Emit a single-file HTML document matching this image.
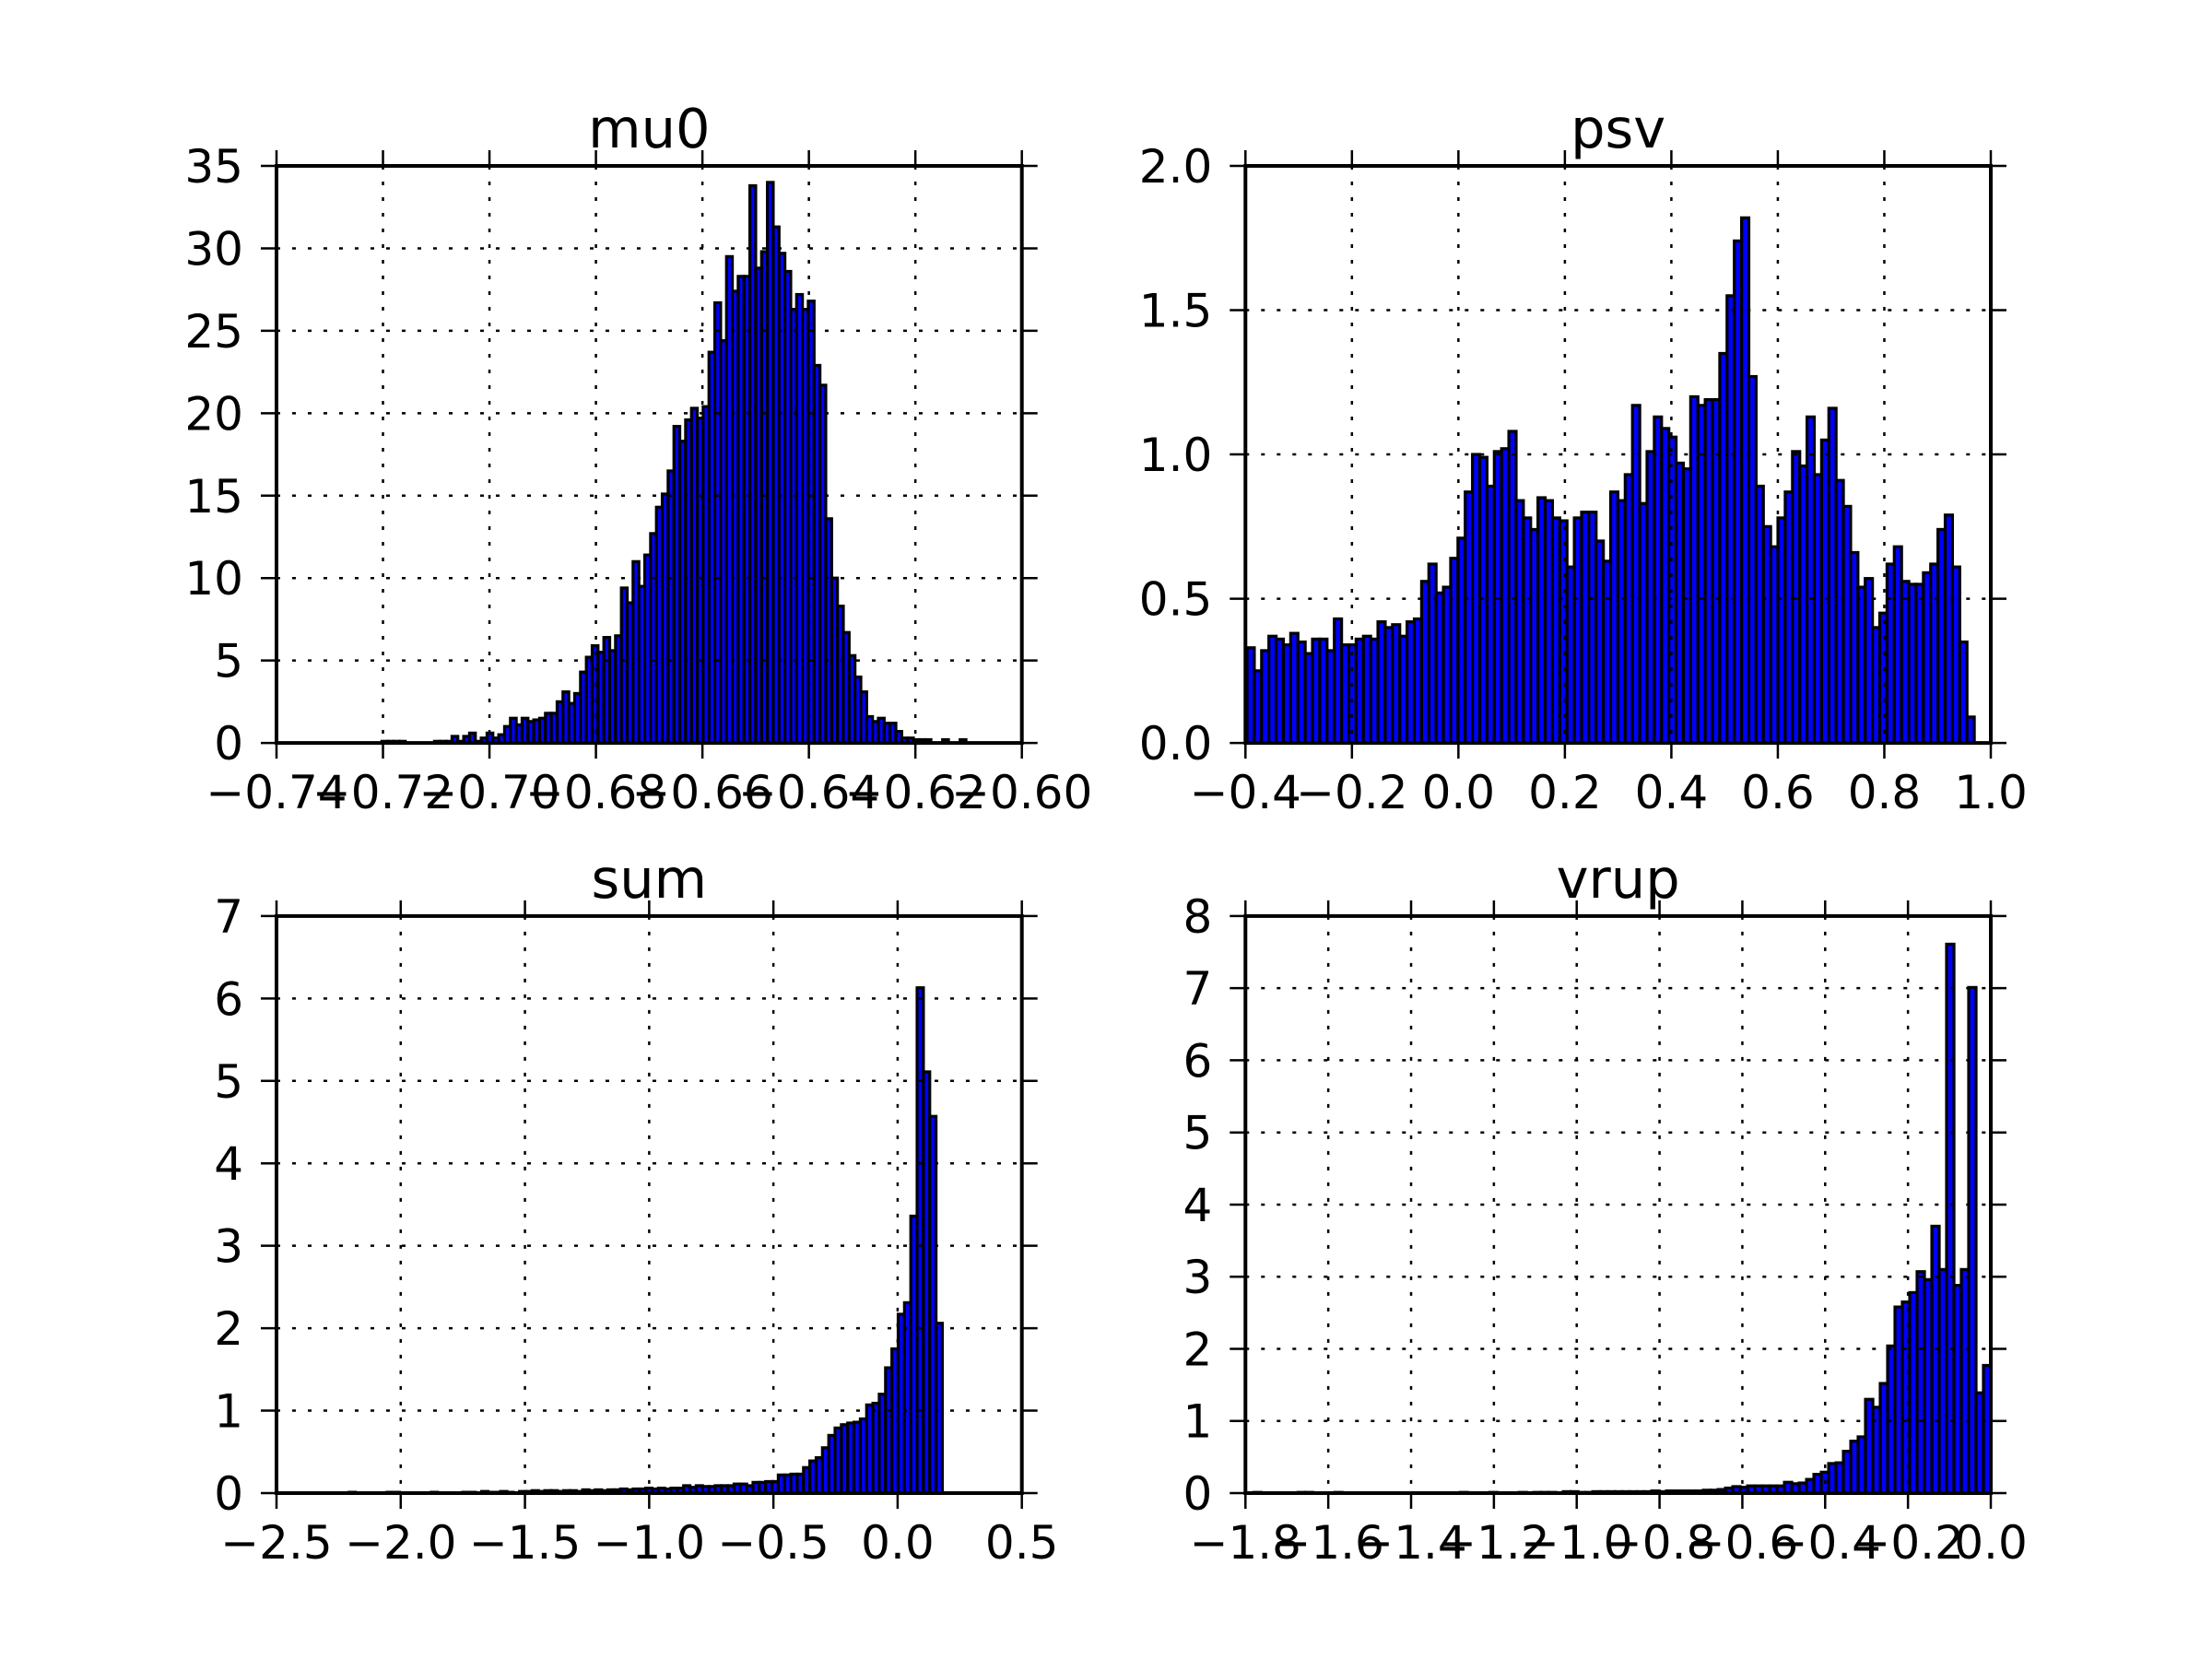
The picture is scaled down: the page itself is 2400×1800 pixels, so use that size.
<!DOCTYPE html>
<html><head><meta charset="utf-8"><style>
html,body{margin:0;padding:0;background:#fff;}
svg{display:block;font-family:"DejaVu Sans","Liberation Sans",sans-serif;}
</style></head><body>
<svg id="fig" width="2400" height="1800" viewBox="0 0 2400 1800" xmlns="http://www.w3.org/2000/svg">
<rect width="2400" height="1800" fill="#fff"/>
</svg>
<script>
// ---- data ----
const mu0Range = [-0.7202, -0.6094];
const mu0Heights = [0.1,0.1,0.1,0.1,0,0,0,0,0,0.1,0.1,0.1,0.4,0.1,0.4,0.6,0.1,0.3,0.6,0.3,0.5,1.0,1.5,1.1,1.5,1.3,1.4,1.5,1.8,1.8,2.5,3.1,2.4,3.0,4.3,5.2,5.9,5.5,6.4,5.6,6.5,9.4,8.5,11.0,9.5,11.4,12.7,14.3,15.1,16.5,19.2,18.3,19.6,20.3,19.7,20.4,23.7,26.7,24.4,29.5,27.4,28.3,28.3,33.8,28.8,29.8,34.0,31.3,29.7,28.6,26.3,27.2,26.3,26.8,22.9,21.7,13.6,10.0,8.3,6.7,5.3,4.0,3.1,1.6,1.3,1.5,1.2,1.2,0.7,0.3,0.3,0.2,0.2,0.2,0,0,0.2,0,0,0.2,0];
const mu0XTicks = [-0.74,-0.72,-0.70,-0.68,-0.66,-0.64,-0.62,-0.60];
const mu0XLabels = ["−0.74","−0.72","−0.70","−0.68","−0.66","−0.64","−0.62","−0.60"];
const mu0YTicks = [0,5,10,15,20,25,30,35];
const mu0YLabels = ["0","5","10","15","20","25","30","35"];

const psvRange = [-0.397, 0.969];
const psvHeights = [0.33,0.25,0.32,0.37,0.36,0.34,0.38,0.35,0.31,0.36,0.36,0.32,0.43,0.34,0.34,0.36,0.37,0.36,0.42,0.40,0.41,0.37,0.42,0.43,0.56,0.62,0.52,0.54,0.64,0.71,0.87,1.00,0.99,0.89,1.01,1.02,1.08,0.84,0.78,0.74,0.85,0.84,0.78,0.77,0.61,0.78,0.80,0.80,0.70,0.63,0.87,0.84,0.93,1.17,0.83,1.01,1.13,1.09,1.06,0.97,0.95,1.20,1.17,1.19,1.19,1.35,1.55,1.74,1.82,1.27,0.89,0.75,0.68,0.78,0.87,1.01,0.96,1.13,0.93,1.05,1.16,0.91,0.82,0.66,0.54,0.57,0.40,0.45,0.62,0.68,0.56,0.55,0.55,0.59,0.62,0.74,0.79,0.61,0.35,0.09];
const psvXTicks = [-0.4,-0.2,0.0,0.2,0.4,0.6,0.8,1.0];
const psvXLabels = ["−0.4","−0.2","0.0","0.2","0.4","0.6","0.8","1.0"];
const psvYTicks = [0,0.5,1.0,1.5,2.0];
const psvYLabels = ["0.0","0.5","1.0","1.5","2.0"];

const sumRange = [-2.36, 0.18];
const sumHeights = [0,0,0,0,0,0,0.01,0,0,0,0,0,0.01,0.01,0,0,0,0,0,0.01,0,0,0,0,0.01,0.01,0,0.02,0.01,0.01,0.02,0.01,0,0.02,0.02,0.03,0.02,0.03,0.03,0.02,0.03,0.03,0.02,0.04,0.03,0.04,0.03,0.04,0.04,0.05,0.04,0.05,0.05,0.06,0.05,0.06,
 0.05,0.06,0.06,0.09,0.07,0.09,0.08,0.08,0.09,0.09,0.09,0.11,0.11,0.09,0.13,0.13,0.14,0.14,0.22,0.22,0.23,0.23,0.31,0.39,0.43,0.55,0.70,0.79,0.83,0.85,0.86,0.90,1.07,1.09,1.20,1.52,1.75,2.17,2.31,3.36,6.13,5.11,4.57,2.06];
const sumXTicks = [-2.5,-2.0,-1.5,-1.0,-0.5,0.0,0.5];
const sumXLabels = ["−2.5","−2.0","−1.5","−1.0","−0.5","0.0","0.5"];
const sumYTicks = [0,1,2,3,4,5,6,7];
const sumYLabels = ["0","1","2","3","4","5","6","7"];

const vrupRange = [-1.78, 0.0];
const vrupHeights = [0.01,0,0,0,0,0,0.01,0.01,0,0,0,0.01,0,0,0,0,0,0,0,0,0,0,0,0,0,0,0,0,0.01,0,0,0,0.01,0,0,0,0.01,0,0.01,0.01,0.01,0,0.02,0.02,0.01,0.01,0.02,0.02,0.02,0.02,0.02,0.02,0.02,
 0.02,0.03,0.02,0.03,0.03,0.03,0.03,0.03,0.04,0.04,0.05,0.07,0.09,0.08,0.10,0.10,0.10,0.10,0.10,0.15,0.13,0.14,0.19,0.26,0.29,0.41,0.42,0.58,0.72,0.78,1.30,1.19,1.52,2.04,2.58,2.65,2.78,3.07,2.96,3.70,3.10,7.61,2.88,3.10,7.01,1.39,1.77];
const vrupXTicks = [-1.8,-1.6,-1.4,-1.2,-1.0,-0.8,-0.6,-0.4,-0.2,0.0];
const vrupXLabels = ["−1.8","−1.6","−1.4","−1.2","−1.0","−0.8","−0.6","−0.4","−0.2","0.0"];
const vrupYTicks = [0,1,2,3,4,5,6,7,8];
const vrupYLabels = ["0","1","2","3","4","5","6","7","8"];

// ---- drawing ----
const NS = "http://www.w3.org/2000/svg";
const svg = document.getElementById('fig');
function mk(tag, attrs, parent){
  const e = document.createElementNS(NS, tag);
  for (const k in attrs) e.setAttribute(k, attrs[k]);
  (parent||svg).appendChild(e);
  return e;
}
function panel(name, box, xlim, ylim, range, heights, xt, xl, yt, yl){
  const g = mk('g', {});
  
  
  const [L,T,R,B] = box;
  const sx = v => L + (v - xlim[0]) / (xlim[1]-xlim[0]) * (R-L);
  const sy = v => B - (v - ylim[0]) / (ylim[1]-ylim[0]) * (B-T);
  const bw = (range[1]-range[0]) / heights.length;
  heights.forEach((h,i)=>{
    const x0 = sx(range[0]+i*bw), x1 = sx(range[0]+(i+1)*bw);
    const r = mk('rect', {x:x0, y:sy(h), width:Math.max(0,x1-x0), height:Math.max(0,B-sy(h)), fill:'#0000ff', stroke:'#000', 'stroke-width':3.2}, g);
    
    
  });
  xt.forEach((v,i)=>{
    const x = sx(v);
    const gl = mk('line', {x1:x, x2:x, y1:T, y2:B, stroke:'#000', 'stroke-width':2.5, 'stroke-dasharray':'4,13'}, g);
    
    
    mk('line', {x1:x, x2:x, y1:B, y2:B+17, stroke:'#000', 'stroke-width':2.5}, g);
    mk('line', {x1:x, x2:x, y1:T, y2:T-17, stroke:'#000', 'stroke-width':2.5}, g);
    const t = mk('text', {x:x, y:B+71, 'font-size':50, 'text-anchor':'middle', fill:'#000'}, g);
    t.textContent = xl[i];
    
    
  });
  yt.forEach((v,i)=>{
    const y = sy(v);
    const gl = mk('line', {x1:L, x2:R, y1:y, y2:y, stroke:'#000', 'stroke-width':2.5, 'stroke-dasharray':'4,13'}, g);
    
    
    mk('line', {x1:L-17, x2:L, y1:y, y2:y, stroke:'#000', 'stroke-width':2.5}, g);
    mk('line', {x1:R, x2:R+17, y1:y, y2:y, stroke:'#000', 'stroke-width':2.5}, g);
    const t = mk('text', {x:L-36, y:y+18, 'font-size':50, 'text-anchor':'end', fill:'#000'}, g);
    t.textContent = yl[i];
    
    
  });
  const fr = mk('rect', {x:L, y:T, width:R-L, height:B-T, fill:'none', stroke:'#000', 'stroke-width':4}, g);
  
  
  const tt = mk('text', {x:(L+R)/2, y:T-20, 'font-size':59, 'text-anchor':'middle', fill:'#000'}, g);
  tt.textContent = name;
  
  
}
panel('mu0', [300,180,1108.7,806.1], [-0.74,-0.60], [0,35], mu0Range, mu0Heights, mu0XTicks, mu0XLabels, mu0YTicks, mu0YLabels);
panel('psv', [1351.3,180,2160,806.1], [-0.4,1.0], [0,2.0], psvRange, psvHeights, psvXTicks, psvXLabels, psvYTicks, psvYLabels);
panel('sum', [300,993.9,1108.7,1620], [-2.5,0.5], [0,7], sumRange, sumHeights, sumXTicks, sumXLabels, sumYTicks, sumYLabels);
panel('vrup', [1351.3,993.9,2160,1620], [-1.8,0.0], [0,8], vrupRange, vrupHeights, vrupXTicks, vrupXLabels, vrupYTicks, vrupYLabels);
</script>
</body></html>
